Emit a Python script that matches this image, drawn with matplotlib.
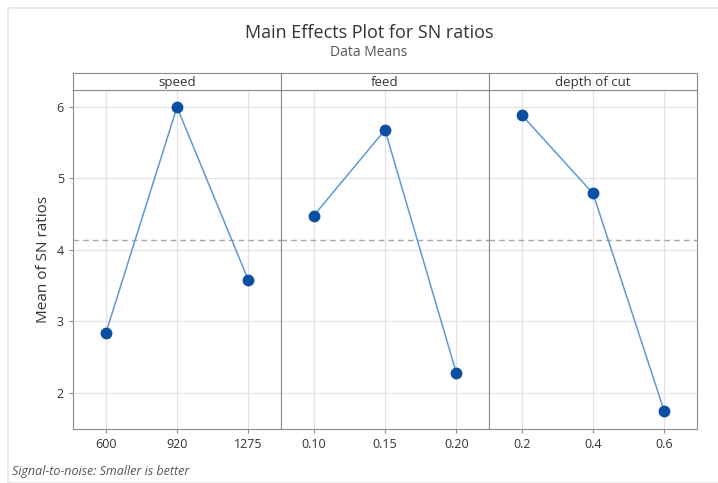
import numpy as np
import matplotlib.pyplot as plt
from matplotlib.patches import Rectangle

plt.rcParams['font.family'] = ['Open Sans', 'DejaVu Sans']

factors = ["speed", "feed", "depth of cut"]
levels = [["600", "920", "1275"], ["0.10", "0.15", "0.20"], ["0.2", "0.4", "0.6"]]
sn_means = [[2.83, 6.00, 3.58], [4.48, 5.68, 2.28], [5.89, 4.79, 1.74]]
overall_mean = 4.14

W, H = 718, 483
fig = plt.figure(figsize=(W / 100, H / 100), dpi=100)

# faint frame round the image
fig.patches.append(Rectangle((8 / W, 0), 1, 1 - 8 / H, transform=fig.transFigure,
                             fill=False, edgecolor="#e6e6e6", lw=1.2))

left, right = 73 / W, 697 / W
bottom, top = 1 - 429 / H, 1 - 90 / H
strip_h = 17 / H
pw = (right - left) / 3

for i, name in enumerate(factors):
    ax = fig.add_axes([left + i * pw, bottom, pw, top - bottom])
    x = np.arange(1, 4)
    ax.plot(x, sn_means[i], color="#5b9bd5", lw=1.1, zorder=3)
    ax.plot(x, sn_means[i], "o", color="#0b4fa3", ms=7.5, zorder=4)
    ax.axhline(overall_mean, color="#a6a6a6", ls=(0, (4, 3)), lw=1, zorder=2)
    ax.set_xlim(0.54, 3.46)
    ax.set_ylim(1.49, 6.24)
    ax.set_xticks(x)
    ax.set_xticklabels(levels[i])
    ax.set_yticks([2, 3, 4, 5, 6])
    ax.grid(True, color="#e3e3e3", lw=0.9, zorder=0)
    ax.set_axisbelow(True)
    for s in ax.spines.values():
        s.set_color("#8c8c8c")
    ax.tick_params(colors="#8c8c8c", labelcolor="#333333", labelsize=9, length=3)
    if i > 0:
        ax.tick_params(axis="y", left=False, labelleft=False)
    else:
        ax.set_ylabel("Mean of SN ratios", fontsize=11, color="#333333")

    sax = fig.add_axes([left + i * pw, top, pw, strip_h])
    sax.set_xticks([])
    sax.set_yticks([])
    for s in sax.spines.values():
        s.set_color("#8c8c8c")
    sax.text(0.5, 0.45, name, ha="center", va="center", fontsize=9.5,
             color="#333333", transform=sax.transAxes)

fig.text(369 / W, 1 - 33 / H, "Main Effects Plot for SN ratios", ha="center",
         va="center", fontsize=13, color="#333333")
fig.text(369 / W, 1 - 53 / H, "Data Means", ha="center", va="center",
         fontsize=10, color="#555555")
fig.text(12 / W, 1 - 472 / H, "Signal-to-noise: Smaller is better", ha="left",
         va="center", fontsize=9, style="italic", color="#555555")

fig.savefig("out.png", dpi=100)
